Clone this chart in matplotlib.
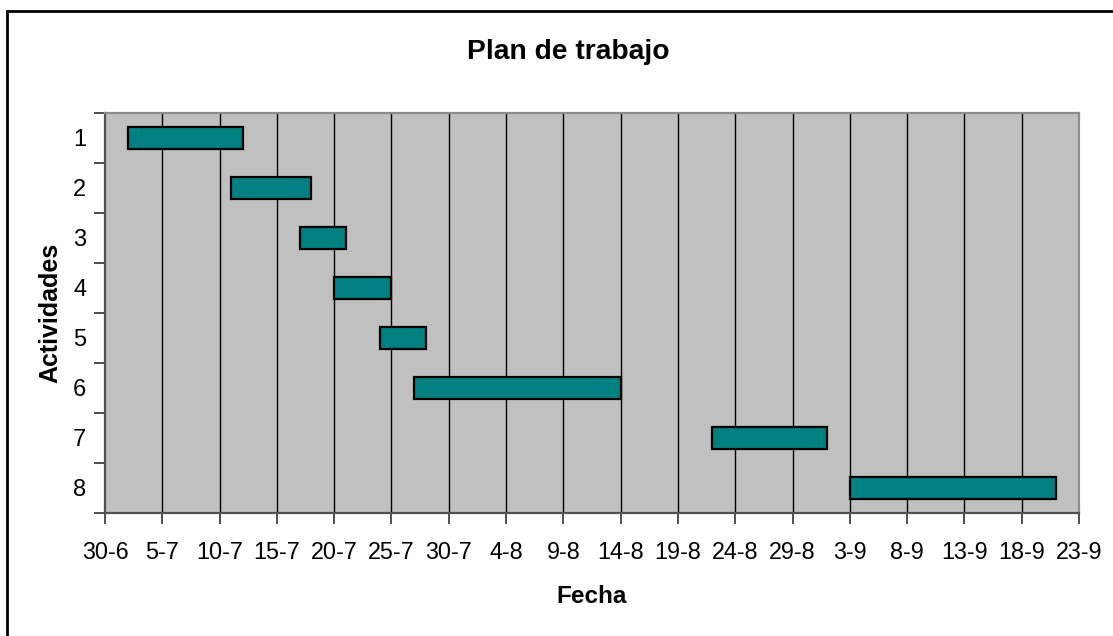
import matplotlib
matplotlib.use("Agg")
import matplotlib.pyplot as plt
import matplotlib.dates as mdates
from matplotlib.patches import Rectangle
from matplotlib.ticker import FixedLocator
from datetime import datetime

YEAR = 2007
activities = ['1', '2', '3', '4', '5', '6', '7', '8']
starts = ['2-7', '11-7', '17-7', '20-7', '24-7', '27-7', '22-8', '3-9']
ends = ['12-7', '18-7', '21-7', '25-7', '28-7', '14-8', '1-9', '21-9']
tick_labels = ['30-6', '5-7', '10-7', '15-7', '20-7', '25-7', '30-7', '4-8', '9-8',
               '14-8', '19-8', '24-8', '29-8', '3-9', '8-9', '13-9', '18-9', '23-9']


def to_num(s):
    d, m = s.split('-')
    return mdates.date2num(datetime(YEAR, int(m), int(d)))


plt.rcParams['font.family'] = ['Liberation Sans', 'DejaVu Sans']

W, H = 1113, 636
fig = plt.figure(figsize=(W / 100, H / 100), dpi=100)
fig.patch.set_facecolor('white')

ax = fig.add_axes([105 / W, 1 - 513 / H, (1079 - 105) / W, (513 - 113) / H])
ax.set_facecolor('#C0C0C0')

s_num = [to_num(s) for s in starts]
e_num = [to_num(e) for e in ends]
ypos = list(range(1, len(activities) + 1))
ax.barh(ypos, [e - s for s, e in zip(s_num, e_num)], left=s_num, height=0.44,
        color='#008080', edgecolor='black', linewidth=1.6, zorder=3)

xt = [to_num(t) for t in tick_labels]
ax.set_xlim(xt[0], xt[-1])
ax.set_xticks(xt)
ax.set_xticklabels(tick_labels, fontsize=16.8)
for x in xt[1:-1]:
    ax.axvline(x, color='black', linewidth=1.0, zorder=1)

ax.set_ylim(len(activities) + 0.5, 0.5)
ax.set_yticks(ypos)
ax.set_yticklabels(activities, fontsize=17)
ax.yaxis.set_minor_locator(FixedLocator([i + 0.5 for i in range(0, len(activities) + 1)]))
ax.tick_params(axis='y', which='major', length=0, pad=13.5)
ax.tick_params(axis='y', which='minor', length=8, width=1.2, color='#303030', direction='out')
ax.tick_params(axis='x', which='major', length=8, width=1.2, color='#303030', direction='out', pad=12.5)

for side in ['top', 'right']:
    ax.spines[side].set_color('#8C8C8C')
    ax.spines[side].set_linewidth(1.6)
for side in ['left', 'bottom']:
    ax.spines[side].set_color('#505050')
    ax.spines[side].set_linewidth(1.6)

ax.set_xlabel('Fecha', fontsize=17.5, fontweight='bold', labelpad=15)
ax.set_ylabel('Actividades', fontsize=18, fontweight='bold', labelpad=8)

fig.text(568 / W, 1 - 52 / H, 'Plan de trabajo', fontsize=20.3, fontweight='bold',
         ha='center', va='center')

fig.patches.append(Rectangle((7 / W, -0.1), 1.2, (H - 11) / H + 0.1,
                             transform=fig.transFigure, fill=False,
                             edgecolor='black', linewidth=2))

fig.savefig('out.png', dpi=100)
